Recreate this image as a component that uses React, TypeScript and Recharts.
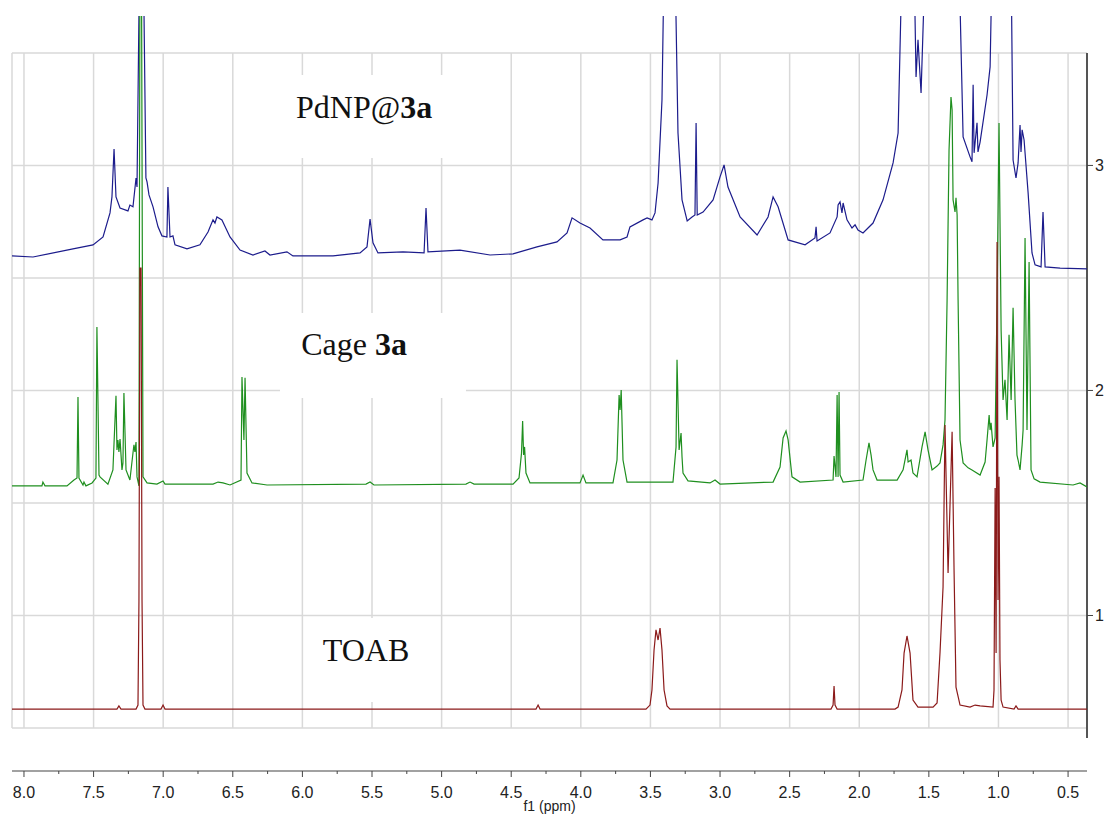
import {
    CartesianGrid,
    Line,
    LineChart,
    ReferenceArea,
    ReferenceDot,
    ReferenceLine,
    XAxis,
    YAxis,
} from 'recharts'

// 1H NMR stack: PdNP@3a (top), cage 3a (middle), TOAB (bottom).
// x = chemical shift in ppm, y = stacked intensity on the right-hand scale.

const PPM_MIN = 0.364
const PPM_MAX = 8.086
const STACK_MIN = 0.309
const STACK_MAX = 3.664

const PPM_MAJOR = [8.0, 7.5, 7.0, 6.5, 6.0, 5.5, 5.0, 4.5, 4.0, 3.5, 3.0, 2.5, 2.0, 1.5, 1.0, 0.5]
const PPM_MINOR = [7.75, 7.25, 6.75, 6.25, 5.75, 5.25, 4.75, 4.25, 3.75, 3.25, 2.75, 2.25, 1.75, 1.25, 0.75]
const STACK_TICKS = [1, 2, 3]
const STACK_GRID = [0.5, 1.0, 1.5, 2.0, 2.5, 3.0, 3.5]

// [ppm, intensity]; peaks above 3.664 run off the top of the plot
const PDNP_3A: [number, number][] = [
    [8.086, 2.598], [7.935, 2.593], [7.648, 2.629], [7.504, 2.647], [7.432, 2.682],
    [7.382, 2.789], [7.368, 2.86], [7.353, 3.073], [7.339, 2.86], [7.31, 2.811],
    [7.253, 2.798], [7.239, 2.824], [7.217, 2.816], [7.195, 2.944], [7.188, 2.904],
    [7.17, 3.9], [7.142, 3.9], [7.124, 2.944], [7.116, 2.927], [7.102, 2.869],
    [7.073, 2.816], [7.037, 2.727], [7.009, 2.687], [6.973, 2.682], [6.966, 2.904],
    [6.951, 2.682], [6.93, 2.687], [6.915, 2.647], [6.829, 2.629], [6.736, 2.647],
    [6.678, 2.704], [6.642, 2.758], [6.628, 2.744], [6.614, 2.771], [6.578, 2.758],
    [6.52, 2.682], [6.448, 2.624], [6.355, 2.602], [6.269, 2.62], [6.233, 2.602],
    [6.111, 2.616], [6.068, 2.598], [5.78, 2.598], [5.586, 2.611], [5.536, 2.638],
    [5.514, 2.762], [5.493, 2.656], [5.457, 2.611], [5.277, 2.616], [5.126, 2.611],
    [5.112, 2.811], [5.098, 2.616], [4.868, 2.624], [4.652, 2.602], [4.487, 2.607],
    [4.315, 2.638], [4.171, 2.66], [4.099, 2.7], [4.063, 2.767], [4.006, 2.744],
    [3.934, 2.722], [3.841, 2.669], [3.718, 2.669], [3.668, 2.682], [3.647, 2.727],
    [3.553, 2.758], [3.524, 2.767], [3.489, 2.758], [3.467, 2.789], [3.445, 2.922],
    [3.417, 3.291], [3.402, 3.9], [3.323, 3.9], [3.302, 3.144], [3.273, 2.847],
    [3.236, 2.753], [3.201, 2.771], [3.18, 2.78], [3.172, 3.189], [3.164, 2.78],
    [3.122, 2.793], [3.05, 2.847], [3.0, 2.949], [2.971, 3.002], [2.943, 2.904],
    [2.856, 2.771], [2.734, 2.691], [2.655, 2.771], [2.619, 2.86], [2.583, 2.816],
    [2.511, 2.669], [2.389, 2.647], [2.318, 2.678], [2.31, 2.727], [2.303, 2.664],
    [2.21, 2.7], [2.159, 2.771], [2.152, 2.824], [2.138, 2.838], [2.124, 2.789],
    [2.116, 2.833], [2.088, 2.758], [2.052, 2.722], [2.03, 2.736], [2.009, 2.713],
    [1.973, 2.7], [1.901, 2.744], [1.829, 2.847], [1.757, 3.011], [1.721, 3.144],
    [1.693, 3.9], [1.606, 3.9], [1.592, 3.393], [1.578, 3.558], [1.556, 3.322],
    [1.527, 3.9], [1.283, 3.9], [1.254, 3.127], [1.204, 3.038], [1.19, 3.016],
    [1.182, 3.358], [1.175, 3.056], [1.154, 3.189], [1.147, 3.06], [1.132, 3.104],
    [1.082, 3.313], [1.06, 3.438], [1.046, 3.9], [0.909, 3.9], [0.895, 3.024],
    [0.874, 2.944], [0.859, 3.011], [0.845, 3.18], [0.838, 3.06], [0.83, 3.158],
    [0.816, 3.113], [0.787, 2.878], [0.759, 2.611], [0.737, 2.558], [0.694, 2.549],
    [0.68, 2.793], [0.665, 2.549], [0.557, 2.544], [0.364, 2.54],
]

const CAGE_3A: [number, number][] = [
    [8.086, 1.576], [7.871, 1.576], [7.864, 1.593], [7.849, 1.576], [7.691, 1.576],
    [7.641, 1.602], [7.619, 1.611], [7.612, 1.971], [7.605, 1.611], [7.576, 1.58],
    [7.569, 1.593], [7.555, 1.576], [7.511, 1.589], [7.483, 1.611], [7.476, 2.282],
    [7.461, 1.624], [7.454, 1.616], [7.397, 1.584], [7.361, 1.647], [7.339, 1.976],
    [7.332, 1.736], [7.325, 1.78], [7.318, 1.727], [7.31, 1.784], [7.296, 1.647],
    [7.289, 1.678], [7.282, 1.989], [7.267, 1.647], [7.239, 1.602], [7.217, 1.722],
    [7.21, 1.758], [7.203, 1.727], [7.195, 1.771], [7.188, 1.616], [7.174, 1.576],
    [7.167, 3.9], [7.156, 3.9], [7.145, 1.616], [7.116, 1.589], [7.045, 1.584],
    [7.001, 1.598], [6.987, 1.584], [6.642, 1.584], [6.606, 1.593], [6.57, 1.589],
    [6.52, 1.58], [6.441, 1.602], [6.434, 2.06], [6.42, 1.78], [6.412, 2.056],
    [6.398, 1.633], [6.362, 1.589], [6.254, 1.58], [5.543, 1.584], [5.514, 1.593],
    [5.486, 1.58], [4.825, 1.584], [4.796, 1.593], [4.767, 1.584], [4.487, 1.584],
    [4.444, 1.611], [4.426, 1.722], [4.418, 1.864], [4.411, 1.713], [4.404, 1.749],
    [4.394, 1.633], [4.365, 1.589], [4.006, 1.589], [3.984, 1.624], [3.963, 1.589],
    [3.769, 1.589], [3.74, 1.691], [3.725, 1.98], [3.718, 1.913], [3.71, 2.002],
    [3.697, 1.691], [3.668, 1.593], [3.338, 1.593], [3.316, 1.749], [3.309, 2.136],
    [3.294, 1.736], [3.28, 1.811], [3.273, 1.704], [3.266, 1.633], [3.23, 1.598],
    [3.072, 1.589], [3.036, 1.602], [3.0, 1.584], [2.619, 1.593], [2.569, 1.66],
    [2.547, 1.789], [2.526, 1.82], [2.511, 1.78], [2.483, 1.616], [2.425, 1.593],
    [2.188, 1.602], [2.181, 1.709], [2.167, 1.616], [2.159, 1.98], [2.152, 1.616],
    [2.145, 1.993], [2.138, 1.624], [2.116, 1.593], [1.973, 1.602], [1.951, 1.691],
    [1.93, 1.767], [1.915, 1.713], [1.901, 1.647], [1.872, 1.602], [1.728, 1.602],
    [1.685, 1.647], [1.657, 1.736], [1.649, 1.682], [1.628, 1.691], [1.614, 1.633],
    [1.585, 1.616], [1.549, 1.749], [1.527, 1.816], [1.506, 1.736], [1.477, 1.647],
    [1.441, 1.664], [1.42, 1.678], [1.398, 1.758], [1.384, 1.869], [1.369, 2.402],
    [1.355, 3.069], [1.341, 3.304], [1.333, 3.247], [1.326, 2.847], [1.312, 2.793],
    [1.305, 2.856], [1.297, 2.78], [1.29, 2.402], [1.276, 1.78], [1.254, 1.678],
    [1.218, 1.656], [1.19, 1.647], [1.132, 1.624], [1.096, 1.682], [1.082, 1.78],
    [1.067, 1.891], [1.06, 1.824], [1.053, 1.856], [1.039, 1.749], [1.024, 1.789],
    [1.01, 2.402], [0.996, 3.189], [0.981, 2.269], [0.967, 1.958], [0.953, 2.047],
    [0.938, 1.869], [0.924, 2.247], [0.909, 1.958], [0.895, 2.367], [0.881, 1.958],
    [0.867, 1.713], [0.859, 1.691], [0.845, 1.647], [0.83, 1.758], [0.823, 1.824],
    [0.809, 2.678], [0.795, 1.824], [0.78, 2.571], [0.766, 1.647], [0.744, 1.607],
    [0.701, 1.593], [0.464, 1.58], [0.414, 1.589], [0.364, 1.571],
]

const TOAB: [number, number][] = [
    [8.086, 0.584], [7.332, 0.584], [7.318, 0.598], [7.303, 0.584], [7.195, 0.584],
    [7.181, 0.602], [7.174, 1.069], [7.167, 2.544], [7.159, 2.544], [7.152, 1.069],
    [7.145, 0.602], [7.131, 0.584], [7.016, 0.584], [7.001, 0.602], [6.987, 0.584],
    [4.322, 0.584], [4.307, 0.602], [4.293, 0.584], [3.532, 0.584], [3.503, 0.602],
    [3.489, 0.669], [3.474, 0.847], [3.46, 0.936], [3.445, 0.891], [3.431, 0.944],
    [3.417, 0.847], [3.402, 0.669], [3.381, 0.598], [3.359, 0.584], [2.203, 0.584],
    [2.188, 0.602], [2.181, 0.687], [2.174, 0.602], [2.159, 0.584], [1.743, 0.584],
    [1.721, 0.593], [1.693, 0.669], [1.678, 0.833], [1.657, 0.909], [1.635, 0.833],
    [1.614, 0.624], [1.578, 0.593], [1.47, 0.593], [1.441, 0.611], [1.42, 0.833],
    [1.398, 1.127], [1.384, 1.847], [1.362, 1.189], [1.333, 1.816], [1.319, 1.202],
    [1.305, 0.682], [1.276, 0.602], [1.204, 0.593], [1.168, 0.602], [1.132, 0.598],
    [1.039, 0.593], [1.032, 0.669], [1.024, 1.567], [1.017, 0.833], [1.01, 2.66],
    [1.003, 1.069], [0.996, 1.616], [0.989, 0.802], [0.981, 0.624], [0.967, 0.593],
    [0.888, 0.584], [0.874, 0.598], [0.859, 0.584], [0.364, 0.584],
]

const toRows = (pts: [number, number][]) => pts.map(([ppm, v]) => ({ ppm, v }))

// trace labels, each sitting on a white patch that hides the grid behind it
const LABELS = [
    { name: 'PdNP@', bold: '3a', ppm: 5.557, at: 3.211, box: [6.341, 4.904, 3.033, 3.402] },
    { name: 'Cage ', bold: '3a', ppm: 5.629, at: 2.158, box: [6.161, 4.825, 1.967, 2.344] },
    { name: 'TOAB', bold: '', ppm: 5.543, at: 0.797, box: [5.96, 5.011, 0.616, 0.989] },
]

const AXIS_FONT = 'Liberation Sans, Arial, sans-serif'
const GRID = '#d9d9d9'

function PpmTick(props: any) {
    const { x, y, payload } = props
    const major = PPM_MAJOR.includes(payload.value)
    return (
        <g>
            <line x1={x} y1={y} x2={x} y2={y + (major ? 6 : 3)} stroke="#444" strokeWidth={1} />
            {major && (
                <text x={x} y={y + 27} textAnchor="middle" fontSize={16} fontFamily={AXIS_FONT} fill="#222">
                    {payload.value.toFixed(1)}
                </text>
            )}
        </g>
    )
}

export default function App() {
    return (
        <div style={{ position: 'absolute', left: 0, top: 0, background: '#fff' }}>
            <LineChart
                width={1112}
                height={818}
                margin={{ top: 16, right: 5, bottom: 0, left: 12 }}
            >
                <CartesianGrid
                    stroke={GRID}
                    strokeWidth={1.5}
                    vertical={false}
                    horizontalValues={STACK_GRID}
                />
                <XAxis
                    type="number"
                    dataKey="ppm"
                    domain={[PPM_MIN, PPM_MAX]}
                    reversed
                    allowDataOverflow
                    ticks={[...PPM_MAJOR, ...PPM_MINOR].sort((a, b) => b - a)}
                    interval={0}
                    height={47}
                    tickSize={0}
                    tickMargin={0}
                    tickLine={false}
                    axisLine={{ stroke: '#444', strokeWidth: 1.2 }}
                    tick={<PpmTick />}
                    label={{
                        value: 'f1 (ppm)',
                        position: 'insideBottom',
                        offset: 7,
                        fontSize: 14,
                        fontFamily: AXIS_FONT,
                        fill: '#222',
                    }}
                />
                <YAxis
                    type="number"
                    orientation="right"
                    domain={[STACK_MIN, STACK_MAX]}
                    allowDataOverflow
                    ticks={STACK_TICKS}
                    width={20}
                    axisLine={false}
                    tickLine={{ stroke: '#444' }}
                    tickSize={6}
                    tickMargin={2}
                    tick={{ fontSize: 16, fontFamily: AXIS_FONT, fill: '#222', textAnchor: 'start' }}
                />
                {/* vertical grid, only across the 0.5 – 3.5 band */}
                {[PPM_MAX, ...PPM_MAJOR].map((p) => (
                    <ReferenceLine
                        key={'g' + p}
                        segment={[{ x: p, y: 0.5 }, { x: p, y: 3.5 }]}
                        stroke={GRID}
                        strokeWidth={1.5}
                        zIndex={-90}
                    />
                ))}
                {LABELS.map((l) => (
                    <ReferenceArea
                        key={l.name}
                        x1={l.box[0]}
                        x2={l.box[1]}
                        y1={l.box[2]}
                        y2={l.box[3]}
                        fill="#fff"
                        fillOpacity={1}
                        stroke="none"
                        zIndex={-80}
                    />
                ))}
                <ReferenceLine
                    segment={[{ x: PPM_MIN, y: 0.456 }, { x: PPM_MIN, y: 3.5 }]}
                    stroke="#555"
                    strokeWidth={2}
                />
                <Line data={toRows(PDNP_3A)} dataKey="v" type="linear" dot={false} stroke="#1c1c8c" strokeWidth={1.2} isAnimationActive={false} />
                <Line data={toRows(CAGE_3A)} dataKey="v" type="linear" dot={false} stroke="#1f8f1f" strokeWidth={1.2} isAnimationActive={false} />
                <Line data={toRows(TOAB)} dataKey="v" type="linear" dot={false} stroke="#8b1a1a" strokeWidth={1.2} isAnimationActive={false} />
                {LABELS.map((l) => (
                    <ReferenceDot
                        key={'t' + l.name}
                        x={l.ppm}
                        y={l.at}
                        r={0}
                        shape={(p: any) => (
                            <text
                                x={p.cx}
                                y={p.cy}
                                textAnchor="middle"
                                fontSize={32}
                                fontFamily="Liberation Serif, DejaVu Serif, serif"
                                fill="#111"
                            >
                                <tspan>{l.name}</tspan>
                                {l.bold && <tspan fontWeight="bold">{l.bold}</tspan>}
                            </text>
                        )}
                    />
                ))}
            </LineChart>
        </div>
    )
}
